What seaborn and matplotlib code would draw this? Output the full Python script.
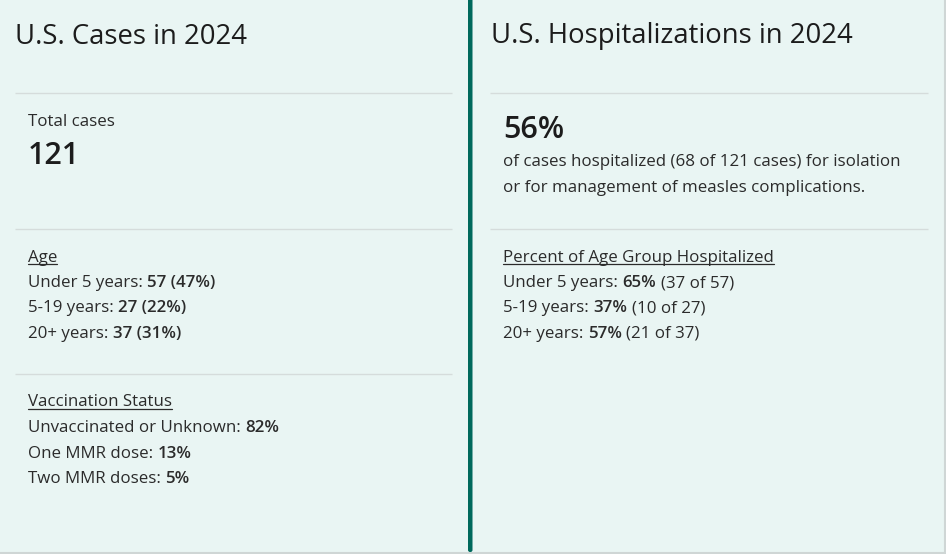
import matplotlib
matplotlib.use("Agg")
import matplotlib.pyplot as plt
from matplotlib.patches import FancyBboxPatch
import seaborn as sns

# data
total_cases = 121
age_groups = ["Under 5 years", "5-19 years", "20+ years"]
age_cases = [57, 27, 37]
age_share = [47, 22, 31]
vacc_groups = ["Unvaccinated or Unknown", "One MMR dose", "Two MMR doses"]
vacc_share = [82, 13, 5]
hosp_share = 56
hosp_cases = 68
age_hosp_share = [65, 37, 57]
age_hosp_cases = [37, 10, 21]

bg = "#e9f5f3"
teal = "#00695c"
rule = "#d5dcdb"
ink = "#1c1c1c"
body = "#2b2b2b"

sns.set_theme(style="white")
plt.rcParams["font.family"] = ["Open Sans", "DejaVu Sans"]

fig = plt.figure(figsize=(9.46, 5.54), dpi=100)
fig.patch.set_facecolor(bg)
ax = fig.add_axes([0, 0, 1, 1])
ax.set_xlim(0, 946)
ax.set_ylim(554, 0)
ax.set_facecolor(bg)
ax.axis("off")
renderer = fig.canvas.get_renderer()

BODY = 12.2
GAP = 4.5


def row(x, y, parts):
    # parts: list of (text, bold) drawn one after another on a baseline
    for txt, bold in parts:
        t = ax.text(x, y, txt, fontsize=BODY, color=body, va="baseline",
                    fontweight="semibold" if bold else "normal")
        x = t.get_window_extent(renderer).x1 + GAP


def heading(x, y, txt):
    t = ax.text(x, y, txt, fontsize=BODY, color=body, va="baseline")
    bb = t.get_window_extent(renderer)
    ax.plot([bb.x0, bb.x1], [y + 2, y + 2], color=body, lw=0.9)


# titles
ax.text(15, 43.5, "U.S. Cases in 2024", fontsize=19.8, color=ink, va="baseline")
ax.text(491, 43.5, "U.S. Hospitalizations in 2024", fontsize=19.8, color=ink, va="baseline")

# separator rules
ax.hlines([92.5, 228.5, 373.5], 15, 452, color=rule, lw=1)
ax.hlines([92.5, 228.5], 490, 928, color=rule, lw=1)

# left panel
ax.text(28, 125.5, "Total cases", fontsize=BODY, color=body, va="baseline")
ax.text(28, 164.5, f"{total_cases}", fontsize=22, color=ink, va="baseline",
        fontweight="semibold")

heading(28, 262, "Age")
ys = [287, 312.5, 338]
for y, g, n, p in zip(ys, age_groups, age_cases, age_share):
    row(28, y, [(f"{g}:", False), (f"{n} ({p}%)", True)])

heading(28, 406.5, "Vaccination Status")
ys = [432, 457.5, 483]
for y, g, p in zip(ys, vacc_groups, vacc_share):
    row(28, y, [(f"{g}:", False), (f"{p}%", True)])

# right panel
ax.text(503, 138, f"{hosp_share}%", fontsize=22, color=ink, va="baseline",
        fontweight="semibold")
ax.text(503, 166, f"of cases hospitalized ({hosp_cases} of {total_cases} cases) for isolation",
        fontsize=BODY, color=body, va="baseline")
ax.text(503, 192, "or for management of measles complications.",
        fontsize=BODY, color=body, va="baseline")

heading(503, 262, "Percent of Age Group Hospitalized")
ys = [287, 312.5, 338]
for y, g, p, n, tot in zip(ys, age_groups, age_hosp_share, age_hosp_cases, age_cases):
    row(503, y, [(f"{g}:", False), (f"{p}%", True), (f"({n} of {tot})", False)])

# teal divider and outer border
ax.add_patch(FancyBboxPatch((468, -10), 4.5, 562, boxstyle="round,pad=0,rounding_size=2",
                            facecolor=teal, edgecolor="none", zorder=3))
ax.hlines(553, 0, 946, color="#cfd6d5", lw=1.5)
ax.vlines(945, 0, 554, color="#cfd6d5", lw=1.5)

fig.savefig("out.png", dpi=100, facecolor=bg)
